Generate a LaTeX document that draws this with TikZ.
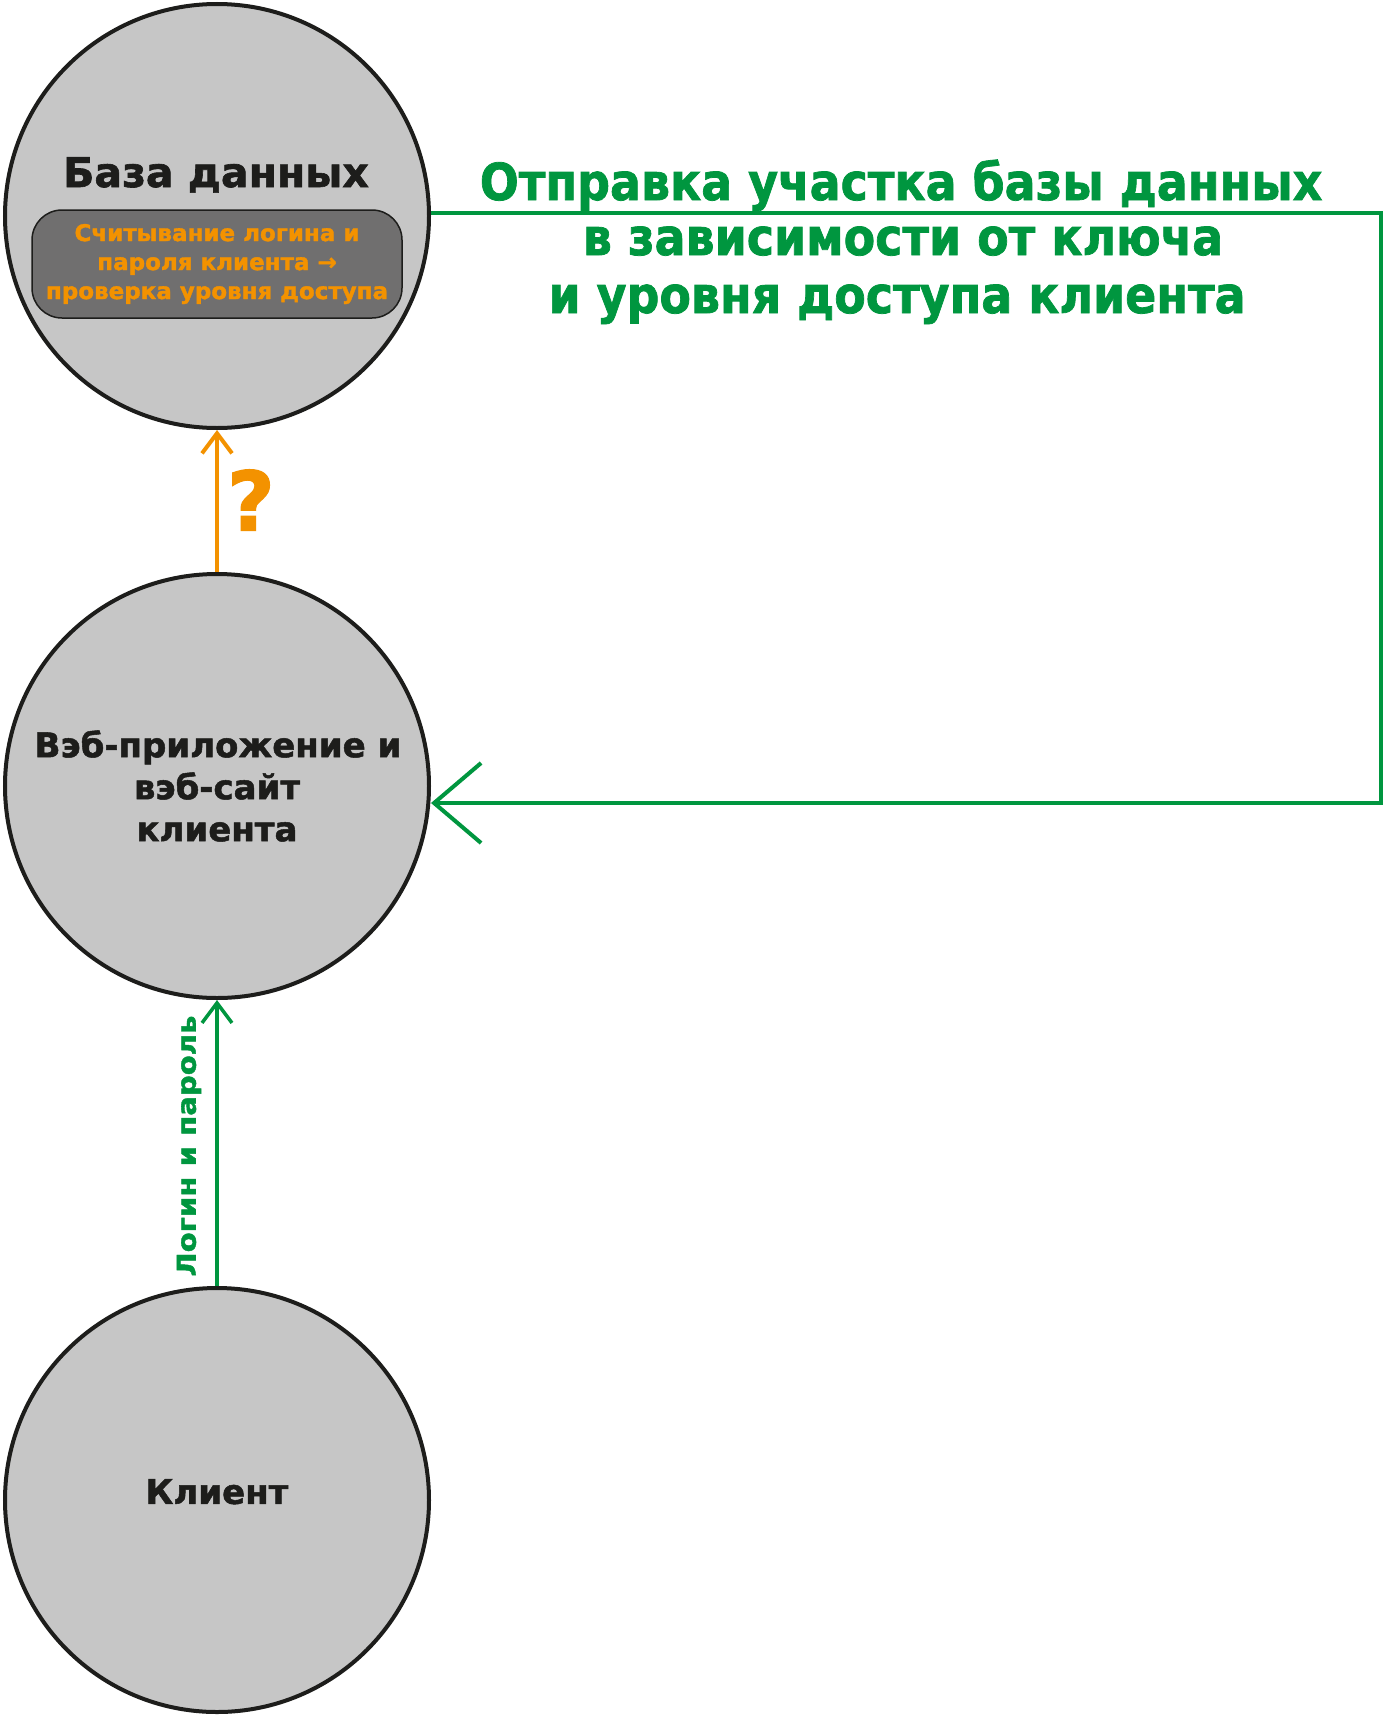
\documentclass[tikz,border=0pt]{standalone}
\usepackage{fontspec}
\setmainfont{DejaVu Sans}
\newfontfamily\hv{DejaVu Sans Bold}[FakeBold=1.5]
\usetikzlibrary{arrows.meta}
\definecolor{cgray}{HTML}{C6C6C6}
\definecolor{dark}{HTML}{1D1D1B}
\definecolor{boxgray}{HTML}{706F6F}
\definecolor{orng}{HTML}{F39200}
\definecolor{grn}{HTML}{00963F}
\begin{document}
\begin{tikzpicture}[x=1pt,y=-1pt,
  circ/.style={circle,draw=dark,line width=4pt,fill=cgray,minimum size=424pt,inner sep=0pt,
    font=\fontsize{34}{42}\hv,text=dark,align=center},
  chkbox/.style={draw=dark,line width=1.5pt,fill=boxgray,rounded corners=30pt,
    minimum width=370pt,minimum height=108pt,inner sep=0pt,align=center,text=orng,
    font=\fontsize{23}{29}\hv},
  gtitle/.style={text=grn,font=\fontsize{51}{57}\hv,anchor=base,inner sep=0pt},
  garrow/.style={draw=grn,line width=4pt,-{Straight Barb[length=47pt,width=80pt]}},
  smallg/.style={draw=grn,line width=3.5pt,-{Straight Barb[length=20pt,width=30pt]}},
  smallo/.style={draw=orng,line width=4pt,-{Straight Barb[length=20pt,width=30pt]}}
]
\useasboundingbox[fill=white] (0,0) rectangle (1383,1718);
\node[circ] (db) at (217,216) {};
\node[circ] (web) at (217,786) {\hspace*{2pt}Вэб-приложение и\\вэб-сайт\\клиента};
\node[circ] (cl) at (217,1500) {\raisebox{17pt}{Клиент}};
\node[anchor=base,inner sep=0pt,text=dark,font=\fontsize{41}{41}\hv] (dbt) at (216,187) {База данных};
\node[chkbox] (chk) at (217,264) {Считывание логина и\\пароля клиента →\\проверка уровня доступа};
\node[gtitle] (t1) at (901,200) {\scalebox{0.9}[1]{Отправка участка базы данных}};
\node[gtitle] (t2) at (903,255) {\scalebox{0.9}[1]{в зависимости от ключа}};
\node[gtitle] (t3) at (897,313) {\scalebox{0.9}[1]{и уровня доступа клиента}};
\coordinate (c1) at (1381,213);
\coordinate (c2) at (1381,803);
\draw[garrow] (db.east |- c1) -- (c1) -- (c2) -- (c2 -| web.east);
\draw[smallo] (web.north) -- (db.south);
\node[text=orng,font=\fontsize{82}{82}\hv,inner sep=0pt] (q) at (251,500) {?};
\draw[smallg] (cl.north) -- (web.south);
\node[rotate=90,text=grn,font=\fontsize{26}{26}\hv,inner sep=0pt] (lbl) at (189,1146) {\scalebox{1.12}[1]{Логин и пароль}};
\end{tikzpicture}
\end{document}
